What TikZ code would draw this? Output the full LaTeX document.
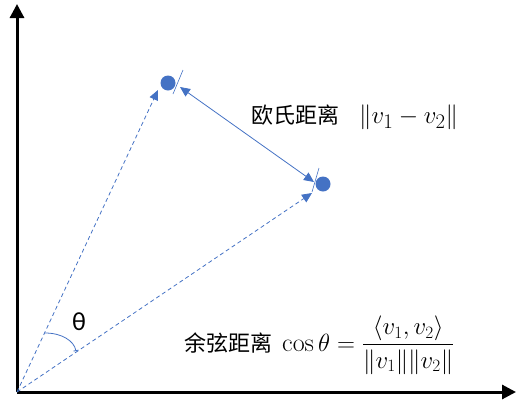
\documentclass[tikz,border=0pt]{standalone}
\usepackage{amsmath}
\usepackage{amssymb}
\usepackage{fontspec}
\newfontfamily\cjk{Noto Sans CJK SC}
\newfontfamily\grk{Carlito}
\usetikzlibrary{arrows.meta}
\definecolor{vecblue}{HTML}{4472C4}
\tikzset{
  vecdash/.style={vecblue, line width=0.8pt, dash pattern=on 4pt off 3pt},
  vectip/.style={-{Triangle[length=10pt, width=9pt]}},
  dot/.style={circle, fill=vecblue, inner sep=0pt, minimum size=15pt}
}

\begin{document}
\begin{tikzpicture}[x=1pt, y=-1pt]
\useasboundingbox (0,0) rectangle (522,405);
% axes
\coordinate (O) at (17,392);
\coordinate (xend) at (516,392);
\coordinate (yend) at (17,4);
\draw[line width=3pt, -{Triangle[length=14pt, width=14pt]}] (O) -- (xend);
\draw[line width=3pt, -{Triangle[length=14pt, width=14pt]}] (O) -- (yend);
% the two points
\node[dot] (v1) at (168,83) {};
\node[dot] (v2) at (323,184) {};
\draw[vecblue, line width=0.6pt] (183,70) -- (173,94);
\draw[vecblue, line width=0.6pt] (319,168) -- (312,192);
% vectors from origin
\coordinate (t1) at (158,90);
\coordinate (t2) at (312,193);
\draw[vecdash, vectip] (O) -- (t1);
\draw[vecdash, vectip] (O) -- (t2);
% distance between the points
\coordinate (a1) at (180,87);
\coordinate (a2) at (314,182);
\draw[vecblue, line width=0.8pt, {Triangle[length=10pt, width=9pt]}-{Triangle[length=10pt, width=9pt]}] (a1) -- (a2);
% angle
\coordinate (arcA) at (45,333);
\coordinate (arcB) at (76,351);
\draw[vecblue, line width=0.8pt, -{Bar[width=5pt]}] (arcA) .. controls (62,333) and (74,341) .. (arcB);
\node[font=\grk\fontsize{26}{26}\selectfont] (theta) at (79,322) {θ};
% labels
\node[anchor=west, inner sep=0pt] (euc) at (251,117)
  {\fontsize{22}{22}\selectfont{\cjk 欧氏距离}\hspace{20pt}{\fontsize{29}{29}\selectfont$\|v_1-v_2\|$}};
\node[anchor=west, inner sep=0pt] (cosd) at (184,345)
  {\fontsize{22}{22}\selectfont{\cjk 余弦距离}\hspace{10pt}{\fontsize{26}{26}\selectfont$\cos\theta=\dfrac{\langle v_1,v_2\rangle}{\|v_1\|\|v_2\|}$}};
\end{tikzpicture}
\end{document}
